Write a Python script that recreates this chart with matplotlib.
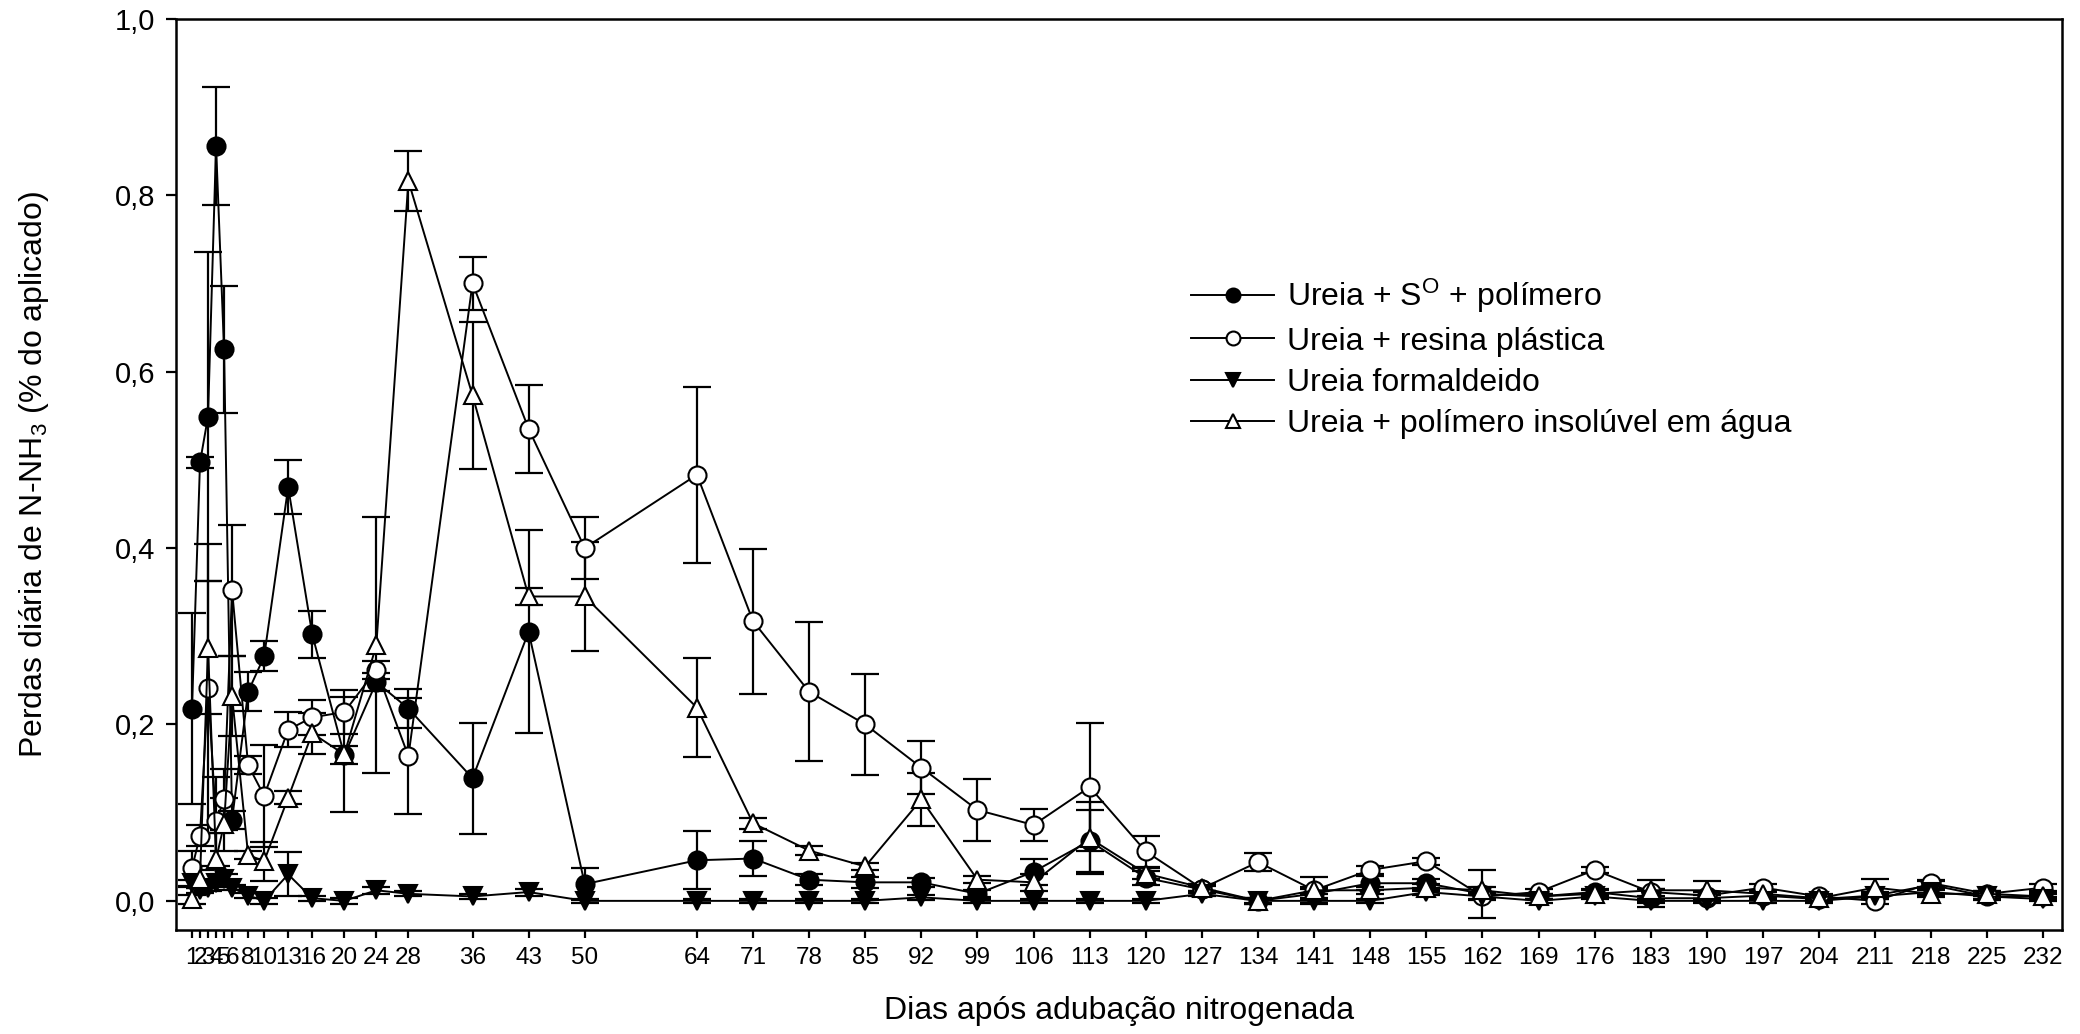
# -*- coding: utf-8 -*-
# Perdas diarias de N-NH3 por fonte de ureia

import matplotlib
matplotlib.use('Agg')
import matplotlib.pyplot as plt
from matplotlib.ticker import FuncFormatter
from matplotlib.lines import Line2D

plt.rcParams['font.family'] = ['Liberation Sans', 'DejaVu Sans']
plt.rcParams['mathtext.fontset'] = 'custom'
plt.rcParams['mathtext.rm'] = 'Liberation Sans'
plt.rcParams['mathtext.it'] = 'Liberation Sans'

days = [1, 2, 3, 4, 5, 6, 8, 10, 13, 16, 20, 24, 28, 36, 43, 50,
        64, 71, 78, 85, 92, 99, 106, 113, 120, 127, 134, 141, 148, 155,
        162, 169, 176, 183, 190, 197, 204, 211, 218, 225, 232]

tick_days = days

# Ureia + S0 + polimero
s0_mean = [0.218, 0.497, 0.549, 0.856, 0.625, 0.092, 0.237, 0.277, 0.469, 0.302,
           0.165, 0.248, 0.218, 0.139, 0.305, 0.019, 0.046, 0.048, 0.024, 0.021,
           0.021, 0.008, 0.033, 0.068, 0.026, 0.013, 0.0, 0.008, 0.02, 0.02,
           0.008, 0.005, 0.01, 0.003, 0.003, 0.006, 0.002, 0.006, 0.018, 0.005, 0.005]
s0_err = [0.108, 0.006, 0.187, 0.067, 0.072, 0.01, 0.022, 0.017, 0.031, 0.027,
          0.01, 0.01, 0.022, 0.063, 0.115, 0.018, 0.033, 0.02, 0.006, 0.006,
          0.005, 0.004, 0.015, 0.035, 0.008, 0.004, 0.003, 0.005, 0.008, 0.005,
          0.027, 0.003, 0.004, 0.01, 0.004, 0.004, 0.003, 0.004, 0.005, 0.004, 0.004]

# Ureia + resina plastica
res_mean = [0.037, 0.074, 0.241, 0.09, 0.115, 0.352, 0.154, 0.119, 0.194, 0.208,
            0.214, 0.262, 0.164, 0.70, 0.535, 0.40, 0.483, 0.317, 0.237, 0.20,
            0.151, 0.103, 0.086, 0.129, 0.056, 0.014, 0.044, 0.012, 0.035, 0.045,
            0.005, 0.01, 0.035, 0.01, 0.006, 0.015, 0.005, 0.0, 0.02, 0.008, 0.015]
res_err = [0.02, 0.012, 0.164, 0.05, 0.035, 0.074, 0.01, 0.058, 0.02, 0.02,
           0.025, 0.01, 0.066, 0.03, 0.05, 0.035, 0.1, 0.082, 0.079, 0.057,
           0.03, 0.035, 0.018, 0.073, 0.018, 0.005, 0.01, 0.015, 0.004, 0.004,
           0.004, 0.003, 0.003, 0.004, 0.004, 0.004, 0.003, 0.004, 0.004, 0.003, 0.004]

# Ureia formaldeido
form_mean = [0.02, 0.012, 0.015, 0.02, 0.025, 0.015, 0.006, 0.0, 0.03, 0.003,
             0.0, 0.012, 0.008, 0.005, 0.01, 0.0, 0.0, 0.0, 0.0, 0.0,
             0.004, 0.0, 0.0, 0.0, 0.0, 0.008, 0.0, 0.0, 0.0, 0.01,
             0.005, 0.0, 0.005, 0.0, 0.0, 0.0, 0.0, 0.005, 0.01, 0.005, 0.002]
form_err = [0.004, 0.003, 0.004, 0.004, 0.005, 0.003, 0.003, 0.003, 0.025, 0.003,
            0.003, 0.004, 0.003, 0.003, 0.004, 0.002, 0.002, 0.002, 0.002, 0.002,
            0.003, 0.002, 0.002, 0.002, 0.002, 0.003, 0.002, 0.002, 0.002, 0.003,
            0.003, 0.002, 0.003, 0.002, 0.002, 0.002, 0.002, 0.003, 0.003, 0.003, 0.002]

# Ureia + polimero insoluvel em agua
ins_mean = [0.002, 0.025, 0.287, 0.047, 0.087, 0.232, 0.052, 0.045, 0.117, 0.19,
            0.166, 0.29, 0.816, 0.573, 0.345, 0.345, 0.219, 0.088, 0.057, 0.039,
            0.115, 0.024, 0.021, 0.071, 0.031, 0.015, 0.0, 0.012, 0.012, 0.015,
            0.012, 0.005, 0.008, 0.012, 0.012, 0.008, 0.003, 0.015, 0.008, 0.008, 0.005]
ins_err = [0.005, 0.01, 0.075, 0.03, 0.03, 0.045, 0.005, 0.022, 0.007, 0.023,
           0.065, 0.145, 0.034, 0.083, 0.01, 0.062, 0.056, 0.006, 0.005, 0.004,
           0.03, 0.004, 0.01, 0.041, 0.006, 0.004, 0.003, 0.004, 0.004, 0.004,
           0.004, 0.003, 0.004, 0.012, 0.01, 0.004, 0.003, 0.01, 0.004, 0.003, 0.003]

labels = ['Ureia + S$^{\\mathrm{O}}$ + polímero', 'Ureia + resina plástica',
          'Ureia formaldeido', 'Ureia + polímero insolúvel em água']

series = [
    (s0_mean, s0_err, 'o', 'black'),
    (res_mean, res_err, 'o', 'white'),
    (form_mean, form_err, 'v', 'black'),
    (ins_mean, ins_err, '^', 'white'),
]

fig = plt.figure(figsize=(20.8, 10.34), dpi=100)
ax = fig.add_axes([0.0846, 0.1006, 0.9067, 0.8814])

handles = []
for (m, e, mk, fc), lab in zip(series, labels):
    ax.errorbar(days, m, yerr=e, fmt='none', ecolor='black', elinewidth=1.6,
                capsize=10, capthick=1.6, zorder=2)
    ax.plot(days, m, color='black', lw=1.4, marker=mk, markersize=13,
            markerfacecolor=fc, markeredgecolor='black', markeredgewidth=1.5,
            zorder=3)
    handles.append(Line2D([], [], color='black', lw=1.4, marker=mk, markersize=10,
                          markerfacecolor=fc, markeredgecolor='black',
                          markeredgewidth=1.5, label=lab))

ax.set_xlim(-1.0, 234.3)
ax.set_ylim(-0.033, 1.0)
ax.set_xticks(tick_days)
ax.set_xticklabels([str(d) for d in tick_days], fontsize=17.5,
                   family=['Liberation Sans Narrow', 'Liberation Sans'])
ax.set_yticks([0.0, 0.2, 0.4, 0.6, 0.8, 1.0])
ax.yaxis.set_major_formatter(FuncFormatter(lambda v, p: ('%.1f' % v).replace('.', ',')))
ax.tick_params(axis='y', labelsize=21, direction='out', length=7, width=1.6, pad=8)
ax.tick_params(axis='x', direction='out', length=6, width=1.6, pad=6)
for sp in ax.spines.values():
    sp.set_linewidth(1.8)

ax.set_xlabel('Dias após adubação nitrogenada', fontsize=23, labelpad=20)
ax.set_ylabel('Perdas diária de N-NH$_3$ (% do aplicado)', fontsize=23, labelpad=46)

ax.legend(handles=handles, loc='upper left', bbox_to_anchor=(0.523, 0.748),
          frameon=False, fontsize=23, handlelength=2.6, handletextpad=0.4,
          labelspacing=0.35)

fig.savefig('out.png', dpi=100)
